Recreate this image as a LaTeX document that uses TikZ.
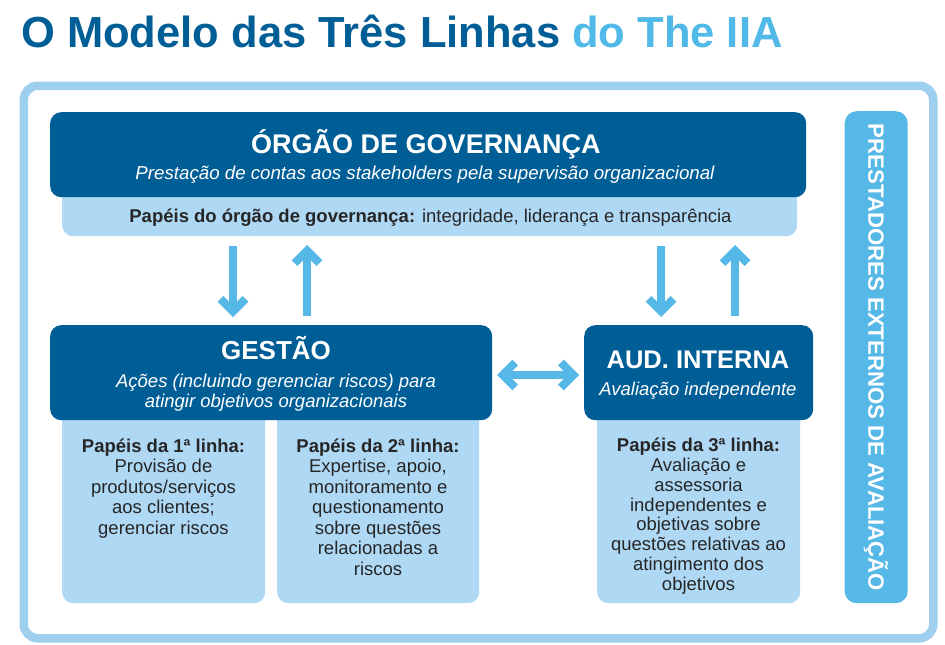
\documentclass[tikz,border=0pt]{standalone}
\usepackage{fontspec}
\setmainfont{Liberation Sans}
\usetikzlibrary{arrows.meta}
\definecolor{dblue}{RGB}{0,94,151}
\definecolor{tblue}{RGB}{80,185,232}
\definecolor{framec}{RGB}{159,207,238}
\definecolor{lblue}{RGB}{174,216,244}
\definecolor{sblue}{RGB}{85,184,231}
\definecolor{txt}{RGB}{38,38,38}
\tikzset{
  darkbox/.style={fill=dblue, rounded corners=11pt, anchor=north west, inner sep=0pt, draw=none},
  lightbox/.style={fill=lblue, rounded corners=11pt, anchor=north west, inner sep=0pt, draw=none},
  headtxt/.style={text=white, font=\fontsize{26}{28}\selectfont\bfseries, anchor=base, inner sep=0pt},
  subtxt/.style={text=white, font=\fontsize{18.5}{20}\selectfont\itshape, anchor=base, inner sep=0pt, align=center},
  bodytxt/.style={text=txt, anchor=base, inner sep=0pt, align=center},
  barb/.tip={Straight Barb[length=12.5pt, width=25pt, line join=miter, line cap=butt]},
  arr/.style={draw=sblue, line width=8pt, -barb},
  darr/.style={draw=sblue, line width=8pt, barb-barb}
}
\begin{document}
\begin{tikzpicture}[x=1pt,y=-1pt]
\useasboundingbox (0,0) rectangle (945,645);
\fill[white] (0,0) rectangle (945,645);
% title
\node[anchor=base west, inner sep=0pt, font=\fontsize{43.5}{45}\selectfont\bfseries] (title) at (21,47)
  {\textcolor{dblue}{O Modelo das Três Linhas} \textcolor{tblue}{do The IIA}};
% frame
\node[draw=framec, line width=8.5pt, rounded corners=14pt, anchor=north west, inner sep=0pt,
      minimum width=909.5pt, minimum height=552.5pt] (frame) at (19.5,81.5) {};
% side bar
\node[fill=sblue, rounded corners=12pt, anchor=north west, inner sep=0pt,
      minimum width=63pt, minimum height=492pt] (side) at (844.5,111) {};
\node[rotate=-90, text=white, inner sep=0pt, font=\fontsize{22.2}{24}\selectfont\bfseries] (sidetxt) at (876,357.5)
  {PRESTADORES EXTERNOS DE AVALIAÇÃO};
% governance
\node[lightbox, minimum width=735pt, minimum height=56pt] (govl) at (62,180) {};
\node[darkbox, minimum width=756pt, minimum height=85pt] (gov) at (50,112) {};
\node[headtxt, font=\fontsize{27}{29}\selectfont\bfseries] (govt) at (426,153) {ÓRGÃO DE GOVERNANÇA};
\node[subtxt, font=\fontsize{18.7}{20}\selectfont\itshape] (govs) at (425,179.5) {Prestação de contas aos stakeholders pela supervisão organizacional};
\node[bodytxt, font=\fontsize{18.5}{20}\selectfont] (govr) at (430.5,222)
  {\textbf{Papéis do órgão de governança:} integridade, liderança e transparência};
% management
\node[lightbox, minimum width=203pt, minimum height=203pt] (l1) at (62,400) {};
\node[lightbox, minimum width=202pt, minimum height=203pt] (l2) at (277,400) {};
\node[darkbox, minimum width=442pt, minimum height=95pt] (gestao) at (50,325) {};
\node[headtxt] (gestaot) at (276,359) {GESTÃO};
\node[subtxt, font=\fontsize{18.5}{20}\selectfont\itshape] (gestaos) at (276,407)
  {Ações (incluindo gerenciar riscos) para\\atingir objetivos organizacionais};
\node[bodytxt, font=\fontsize{18.5}{20.5}\selectfont] (t1) at (163.5,534.3)
  {\textbf{Papéis da 1ª linha:}\\Provisão de\\produtos/serviços\\aos clientes;\\gerenciar riscos};
\node[bodytxt, font=\fontsize{18.5}{20.5}\selectfont] (t2) at (378,575.3)
  {\textbf{Papéis da 2ª linha:}\\Expertise, apoio,\\monitoramento e\\questionamento\\sobre questões\\relacionadas a\\riscos};
% internal audit
\node[lightbox, minimum width=203pt, minimum height=203pt] (l3) at (597,400) {};
\node[darkbox, minimum width=229pt, minimum height=95pt] (aud) at (584,325) {};
\node[headtxt, font=\fontsize{25.5}{27}\selectfont\bfseries] (audt) at (698,368) {AUD. INTERNA};
\node[subtxt] (auds) at (698,395) {Avaliação independente};
\node[bodytxt, font=\fontsize{18.5}{19.8}\selectfont] (t3) at (698.5,590.3)
  {\textbf{Papéis da 3ª linha:}\\Avaliação e\\assessoria\\independentes e\\objetivas sobre\\questões relativas ao\\atingimento dos\\objetivos};
% arrow end points
\coordinate (a1s) at (233,246); \coordinate (a1e) at (233,317);
\coordinate (a2s) at (307,316); \coordinate (a2e) at (307,245);
\coordinate (a3s) at (661,246); \coordinate (a3e) at (661,317);
\coordinate (a4s) at (735,316); \coordinate (a4e) at (735,245);
\coordinate (hs) at (497,375); \coordinate (he) at (579,375);
\draw[arr] (a1s) -- (a1e);
\draw[arr] (a2s) -- (a2e);
\draw[arr] (a3s) -- (a3e);
\draw[arr] (a4s) -- (a4e);
\draw[darr] (hs) -- (he);
\end{tikzpicture}
\end{document}
